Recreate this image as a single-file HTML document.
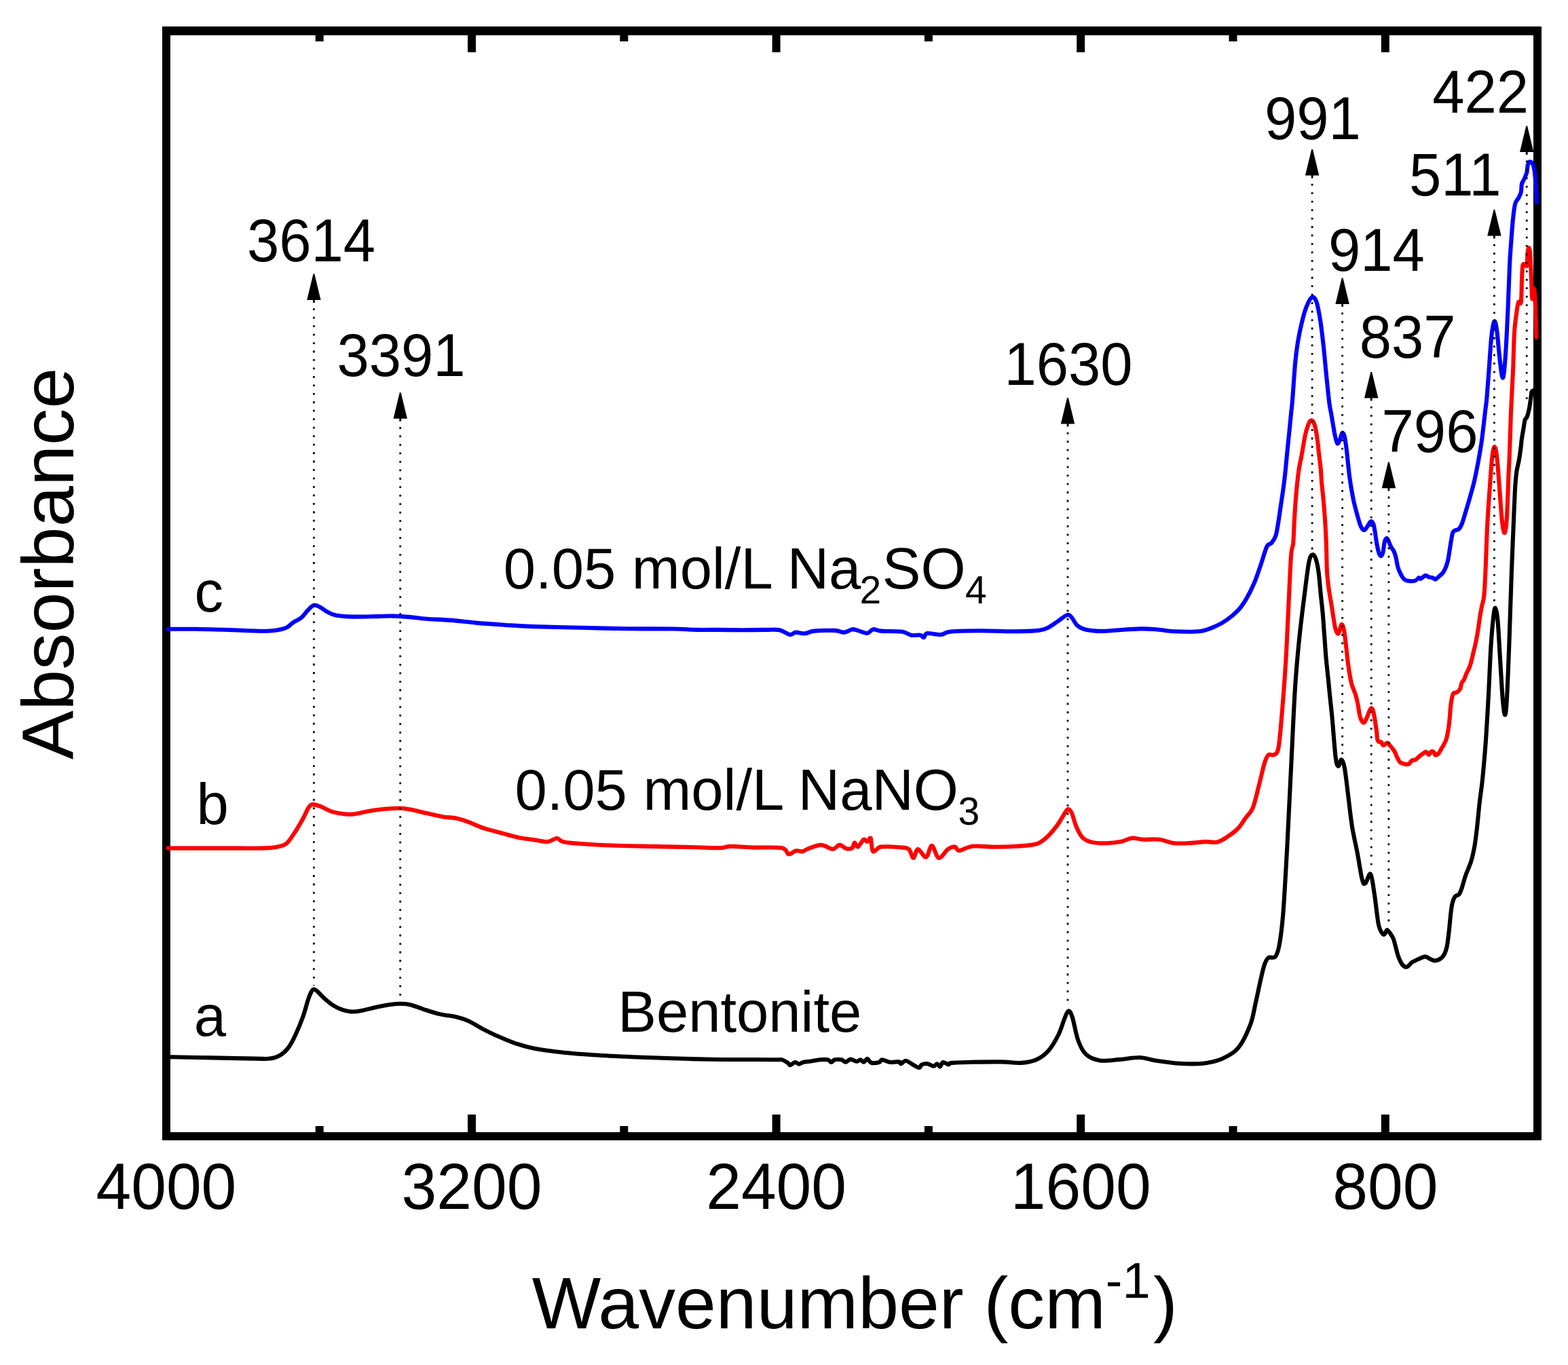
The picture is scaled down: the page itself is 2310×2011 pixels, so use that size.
<!DOCTYPE html>
<html><head><meta charset="utf-8"><title>FTIR spectra</title>
<style>html,body{margin:0;padding:0;background:#fff;overflow:hidden}svg{display:block}</style>
</head><body>
<svg width="2310" height="2011" viewBox="0 0 2310 2011">
<rect x="0" y="0" width="2310" height="2011" fill="#fff"/>
<g fill="#000">
<rect x="239" y="39" width="2032" height="13"/>
<rect x="239" y="1668" width="2032" height="12"/>
<rect x="239" y="39" width="12" height="1641"/>
<rect x="2259" y="39" width="12" height="1641"/>
<rect x="689.0" y="52" width="12" height="25"/><rect x="689.0" y="1642" width="12" height="26"/><rect x="1137.6" y="52" width="12" height="25"/><rect x="1137.6" y="1642" width="12" height="26"/><rect x="1586.2" y="52" width="12" height="25"/><rect x="1586.2" y="1642" width="12" height="26"/><rect x="2034.8" y="52" width="12" height="25"/><rect x="2034.8" y="1642" width="12" height="26"/><rect x="464.7" y="52" width="12" height="9"/><rect x="464.7" y="1659" width="12" height="9"/><rect x="913.3" y="52" width="12" height="9"/><rect x="913.3" y="1659" width="12" height="9"/><rect x="1361.9" y="52" width="12" height="9"/><rect x="1361.9" y="1659" width="12" height="9"/><rect x="1810.5" y="52" width="12" height="9"/><rect x="1810.5" y="1659" width="12" height="9"/>
</g>
<g fill="none" stroke-width="6.1" stroke-linejoin="round" stroke-linecap="round">
<path stroke="#000" d="M247.5,1557.0C248.1,1557.0 240.0,1557.0 250.9,1557.2C261.8,1557.4 291.9,1558.0 312.8,1558.4C333.7,1558.8 361.8,1559.4 376.0,1559.6C390.2,1559.8 391.7,1560.4 397.8,1559.6C403.9,1558.8 407.9,1557.4 412.4,1554.8C416.9,1552.2 421.0,1548.5 424.6,1543.8C428.2,1539.1 430.7,1534.5 434.3,1526.8C437.9,1519.1 443.2,1506.6 446.4,1497.7C449.6,1488.8 451.7,1479.5 453.7,1473.4C455.7,1467.3 457.2,1463.9 458.6,1461.3C460.0,1458.7 460.8,1457.8 462.2,1457.6C463.6,1457.4 464.4,1457.8 467.0,1460.0C469.6,1462.2 474.1,1467.5 478.0,1471.0C481.9,1474.5 486.1,1478.1 490.1,1480.7C494.2,1483.3 497.9,1485.2 502.3,1486.8C506.8,1488.4 511.9,1490.0 516.8,1490.4C521.6,1490.8 524.9,1490.3 531.4,1489.2C537.9,1488.1 548.4,1485.1 555.7,1483.6C563.0,1482.1 569.4,1480.8 575.1,1480.0C580.8,1479.2 584.8,1478.8 589.7,1478.8C594.6,1478.8 598.6,1478.9 604.3,1480.2C610.0,1481.5 616.4,1484.5 623.7,1486.8C631.0,1489.1 639.9,1492.2 648.0,1494.1C656.1,1496.0 665.3,1496.6 672.2,1498.2C679.1,1499.8 682.3,1500.7 689.2,1503.8C696.1,1506.9 706.9,1513.6 713.5,1517.1C720.1,1520.6 721.6,1521.4 729.1,1524.7C736.6,1528.0 748.6,1533.5 758.3,1536.8C768.0,1540.1 775.3,1542.4 787.4,1544.7C799.5,1547.0 816.5,1549.2 831.1,1550.8C845.7,1552.4 857.8,1553.2 874.8,1554.3C891.8,1555.4 913.7,1556.4 933.1,1557.2C952.5,1558.0 972.0,1558.7 991.4,1559.3C1010.8,1559.9 1030.3,1560.4 1049.7,1560.7C1069.1,1561.0 1092.2,1560.9 1107.9,1561.0C1123.6,1561.1 1136.3,1561.2 1143.7,1561.3C1151.1,1561.3 1149.6,1560.4 1152.5,1561.3C1155.4,1562.2 1159.3,1565.1 1161.2,1566.4C1163.1,1567.7 1162.4,1569.5 1164.1,1569.3C1165.8,1569.1 1169.2,1565.3 1171.4,1565.0C1173.6,1564.7 1175.2,1567.6 1177.2,1567.6C1179.2,1567.6 1180.2,1565.7 1183.1,1565.0C1186.0,1564.3 1190.6,1564.1 1194.7,1563.5C1198.8,1562.9 1203.7,1561.7 1207.8,1561.3C1211.9,1560.9 1216.7,1560.7 1219.5,1561.3C1222.3,1561.9 1222.9,1565.0 1224.6,1565.0C1226.3,1565.0 1227.2,1561.9 1229.7,1561.3C1232.2,1560.7 1237.2,1560.7 1239.9,1561.3C1242.6,1561.9 1243.5,1564.8 1245.7,1564.7C1247.9,1564.6 1250.3,1560.8 1253.0,1560.6C1255.7,1560.4 1259.3,1563.7 1261.7,1563.8C1264.1,1563.9 1265.8,1561.1 1267.6,1561.3C1269.4,1561.5 1271.0,1564.9 1272.7,1564.7C1274.4,1564.5 1276.0,1559.7 1277.8,1559.9C1279.6,1560.1 1280.7,1564.9 1283.6,1565.7C1286.5,1566.5 1292.6,1565.7 1295.3,1565.0C1298.0,1564.3 1296.9,1561.3 1299.6,1561.3C1302.3,1561.3 1307.2,1564.5 1311.3,1565.0C1315.4,1565.5 1321.7,1563.8 1324.4,1564.2C1327.1,1564.6 1325.6,1567.4 1327.3,1567.2C1329.0,1567.0 1331.4,1562.5 1334.6,1562.8C1337.8,1563.1 1342.9,1567.6 1346.2,1569.3C1349.5,1571.0 1352.3,1573.1 1354.3,1573.0C1356.2,1572.9 1355.9,1569.6 1357.9,1568.6C1360.0,1567.6 1363.7,1566.8 1366.6,1567.2C1369.5,1567.6 1373.1,1570.8 1375.4,1570.8C1377.7,1570.8 1378.9,1567.1 1380.5,1567.2C1382.1,1567.3 1383.5,1571.9 1384.9,1571.5C1386.4,1571.1 1387.2,1565.5 1389.2,1565.0C1391.2,1564.5 1395.1,1568.0 1397.2,1568.2C1399.3,1568.4 1396.3,1566.5 1402.0,1565.9C1407.7,1565.3 1419.0,1565.0 1431.1,1564.7C1443.2,1564.5 1462.6,1564.2 1474.8,1564.4C1487.0,1564.6 1495.2,1566.5 1504.0,1565.9C1512.8,1565.3 1520.5,1563.9 1527.3,1560.9C1534.1,1557.9 1539.5,1553.9 1544.8,1547.8C1550.1,1541.7 1555.4,1532.3 1559.3,1524.5C1563.2,1516.7 1565.7,1507.0 1568.1,1501.2C1570.5,1495.4 1572.0,1490.0 1573.9,1489.5C1575.8,1489.0 1577.3,1491.0 1579.7,1498.3C1582.1,1505.6 1585.1,1524.0 1588.5,1533.2C1591.9,1542.4 1594.8,1548.7 1600.1,1553.6C1605.4,1558.5 1612.2,1561.2 1620.5,1562.4C1628.8,1563.6 1640.0,1561.6 1649.7,1560.9C1659.4,1560.2 1670.1,1557.8 1678.8,1558.0C1687.5,1558.2 1692.4,1561.0 1702.1,1562.4C1711.8,1563.9 1725.3,1566.0 1737.0,1566.7C1748.7,1567.4 1761.3,1567.9 1772.0,1566.7C1782.7,1565.5 1792.5,1563.4 1801.2,1559.5C1810.0,1555.6 1817.7,1551.7 1824.5,1543.4C1831.3,1535.1 1837.8,1520.5 1841.9,1509.9C1846.0,1499.3 1846.8,1491.0 1849.3,1480.0C1851.8,1469.0 1854.8,1453.9 1857.1,1444.0C1859.4,1434.1 1861.0,1426.1 1863.0,1420.6C1865.0,1415.1 1866.2,1412.7 1868.8,1410.9C1871.4,1409.1 1876.0,1412.6 1878.6,1409.7C1881.2,1406.8 1882.5,1403.8 1884.5,1393.3C1886.5,1382.8 1888.3,1370.5 1890.3,1346.4C1892.2,1322.3 1894.2,1284.6 1896.2,1248.8C1898.2,1213.0 1900.0,1170.7 1902.0,1131.6C1904.0,1092.5 1905.9,1045.7 1907.9,1014.4C1909.9,983.1 1911.5,966.8 1913.8,944.0C1916.1,921.2 1919.1,897.2 1921.6,877.7C1924.1,858.2 1926.5,837.0 1928.6,826.9C1930.7,816.8 1932.4,817.6 1934.1,817.1C1935.8,816.6 1937.2,819.6 1938.6,823.8C1940.0,828.0 1941.3,834.2 1942.5,842.5C1943.7,850.8 1944.5,863.4 1945.6,873.8C1946.6,884.2 1947.9,894.6 1948.8,905.0C1949.7,915.4 1950.3,925.9 1951.1,936.3C1951.9,946.7 1952.5,957.1 1953.4,967.5C1954.3,977.9 1955.5,988.4 1956.6,998.8C1957.6,1009.2 1958.7,1019.8 1959.7,1030.0C1960.7,1040.2 1961.5,1045.7 1962.8,1060.0C1964.1,1074.3 1966.2,1104.4 1967.7,1115.9C1969.2,1127.4 1970.2,1128.3 1971.6,1128.8C1973.0,1129.3 1974.8,1118.6 1976.3,1119.1C1977.8,1119.6 1979.3,1123.0 1980.9,1131.6C1982.5,1140.2 1984.2,1156.3 1986.0,1170.6C1987.8,1184.9 1989.6,1203.2 1991.9,1217.5C1994.2,1231.8 1997.2,1243.6 1999.7,1256.6C2002.2,1269.6 2004.8,1288.1 2006.7,1295.6C2008.7,1303.1 2009.3,1302.8 2011.4,1301.5C2013.5,1300.2 2016.9,1284.9 2019.2,1287.8C2021.5,1290.7 2023.1,1306.7 2025.1,1319.1C2027.0,1331.5 2029.0,1352.6 2030.9,1362.0C2032.9,1371.4 2035.3,1373.4 2036.8,1375.7C2038.3,1378.0 2038.9,1376.9 2040.0,1376.0C2041.1,1375.1 2042.0,1370.4 2043.3,1370.1C2044.5,1369.8 2046.0,1372.2 2047.5,1374.3C2049.1,1376.4 2051.2,1379.2 2052.6,1382.6C2054.0,1385.9 2054.7,1389.9 2055.9,1394.4C2057.2,1398.9 2058.4,1404.9 2060.1,1409.4C2061.8,1413.9 2063.9,1418.7 2066.0,1421.2C2068.1,1423.7 2070.3,1425.1 2072.7,1424.5C2075.1,1423.9 2077.3,1419.8 2080.2,1417.8C2083.1,1415.8 2087.0,1414.2 2090.2,1412.8C2093.4,1411.4 2096.7,1409.4 2099.5,1409.4C2102.3,1409.4 2104.5,1411.8 2107.0,1412.8C2109.5,1413.8 2111.4,1415.9 2114.5,1415.3C2117.6,1414.7 2122.6,1412.6 2125.4,1409.4C2128.2,1406.2 2129.8,1402.1 2131.3,1396.0C2132.8,1389.9 2133.6,1380.7 2134.6,1372.6C2135.6,1364.5 2136.3,1354.5 2137.1,1347.5C2137.9,1340.5 2138.5,1335.2 2139.6,1330.7C2140.7,1326.2 2142.1,1322.9 2143.8,1320.7C2145.5,1318.5 2148.0,1319.5 2149.7,1317.3C2151.4,1315.1 2152.4,1311.8 2153.9,1307.3C2155.4,1302.8 2156.7,1296.9 2158.9,1290.5C2161.1,1284.1 2165.1,1276.0 2167.3,1268.8C2169.5,1261.5 2170.9,1254.8 2172.3,1247.0C2173.7,1239.2 2174.4,1233.1 2175.7,1221.9C2177.0,1210.7 2178.6,1192.1 2180.0,1180.0C2181.4,1167.9 2182.5,1163.3 2183.9,1149.3C2185.3,1135.2 2187.1,1116.5 2188.6,1095.7C2190.1,1074.9 2191.6,1048.1 2192.9,1024.3C2194.2,1000.5 2195.2,971.9 2196.4,952.9C2197.6,933.9 2198.9,919.5 2200.0,910.0C2201.1,900.5 2201.8,895.1 2202.9,895.7C2204.0,896.3 2205.2,901.1 2206.4,913.6C2207.6,926.1 2208.8,951.7 2210.0,970.7C2211.2,989.8 2212.5,1014.2 2213.6,1027.9C2214.7,1041.6 2215.8,1051.7 2216.8,1052.9C2217.8,1054.1 2218.5,1051.7 2219.6,1035.0C2220.7,1018.3 2222.0,984.4 2223.2,952.9C2224.4,921.4 2225.6,878.5 2226.8,845.7C2228.0,813.0 2229.7,773.9 2230.4,756.4C2231.1,738.9 2230.8,747.9 2231.1,740.9C2231.4,733.9 2231.8,721.9 2232.4,714.1C2233.0,706.3 2233.5,700.0 2234.4,694.0C2235.3,688.0 2236.8,683.5 2237.8,677.9C2238.8,672.3 2239.7,665.6 2240.4,660.5C2241.1,655.4 2241.1,652.0 2241.8,647.1C2242.5,642.2 2243.7,635.8 2244.5,631.1C2245.3,626.4 2245.6,621.9 2246.5,619.0C2247.4,616.1 2248.7,616.8 2249.8,613.7C2250.9,610.6 2252.3,604.8 2253.2,600.3C2254.1,595.8 2254.6,590.7 2255.2,586.9C2255.8,583.1 2255.9,579.4 2256.5,577.5C2257.1,575.6 2258.2,575.8 2258.5,575.5"/>
<path stroke="#f00" d="M247.5,1249.6C254.3,1249.6 273.7,1249.6 288.6,1249.6C303.5,1249.6 320.9,1249.6 337.1,1249.6C353.3,1249.6 374.4,1249.8 385.7,1249.6C397.0,1249.4 399.2,1249.3 405.1,1248.3C411.0,1247.3 416.4,1246.5 420.9,1243.5C425.3,1240.5 427.6,1236.4 431.8,1230.1C436.1,1223.8 442.8,1212.4 446.4,1205.9C450.0,1199.4 451.5,1194.8 453.7,1191.3C455.9,1187.8 456.6,1185.7 459.8,1185.2C463.0,1184.7 468.1,1186.6 473.1,1188.4C478.2,1190.2 482.8,1194.2 490.1,1196.1C497.4,1198.0 507.9,1200.0 516.8,1199.8C525.7,1199.6 535.0,1196.2 543.5,1194.9C552.0,1193.6 560.1,1192.5 567.8,1191.8C575.5,1191.1 583.6,1190.7 589.7,1190.8C595.8,1190.9 597.8,1191.3 604.3,1192.5C610.8,1193.7 620.4,1196.3 628.5,1198.1C636.6,1199.9 645.5,1202.2 652.8,1203.4C660.1,1204.6 666.1,1204.2 672.2,1205.4C678.3,1206.6 682.3,1208.2 689.2,1210.7C696.1,1213.2 705.0,1217.6 713.5,1220.4C722.0,1223.2 731.9,1225.4 740.4,1227.7C748.9,1230.0 756.3,1232.4 764.2,1234.0C772.1,1235.6 780.9,1236.4 788.0,1237.4C795.1,1238.4 801.3,1240.5 806.7,1240.1C812.1,1239.7 816.0,1234.9 820.3,1235.0C824.5,1235.1 823.4,1239.3 832.2,1240.8C841.0,1242.3 857.7,1243.3 873.0,1244.2C888.3,1245.1 904.2,1245.6 924.0,1246.2C943.8,1246.8 975.0,1247.2 992.0,1247.6C1009.0,1247.9 1014.7,1248.0 1026.0,1248.3C1037.3,1248.6 1051.5,1249.5 1060.0,1249.3C1068.5,1249.1 1068.5,1247.0 1077.0,1246.9C1085.5,1246.8 1098.5,1248.2 1111.0,1248.6C1123.5,1249.0 1143.3,1247.6 1151.8,1249.3C1160.3,1251.0 1158.6,1257.8 1162.0,1258.5C1165.4,1259.2 1168.8,1254.1 1172.2,1253.4C1175.6,1252.7 1179.6,1254.8 1182.4,1254.4C1185.2,1254.0 1184.7,1252.6 1189.2,1251.0C1193.7,1249.4 1203.4,1244.9 1209.6,1244.9C1215.8,1244.9 1222.1,1251.0 1226.6,1251.0C1231.1,1251.0 1233.4,1245.0 1236.8,1244.9C1240.2,1244.8 1243.9,1249.6 1247.0,1250.3C1250.1,1251.0 1253.5,1250.8 1255.5,1249.3C1257.5,1247.8 1257.5,1241.8 1258.9,1241.5C1260.3,1241.2 1261.7,1248.4 1264.0,1247.6C1266.3,1246.8 1270.2,1238.0 1272.5,1236.7C1274.8,1235.5 1275.9,1240.4 1277.6,1240.1C1279.3,1239.8 1281.4,1232.6 1282.8,1235.0C1284.2,1237.4 1283.6,1252.3 1286.1,1254.4C1288.6,1256.5 1291.5,1248.6 1298.0,1247.6C1304.5,1246.6 1318.4,1247.7 1325.2,1248.3C1332.0,1248.9 1335.4,1248.4 1338.8,1251.0C1342.2,1253.6 1343.3,1263.9 1345.6,1263.9C1347.9,1263.9 1349.3,1251.2 1352.4,1251.0C1355.5,1250.8 1360.9,1263.8 1364.3,1262.9C1367.7,1262.1 1369.7,1245.7 1372.8,1245.9C1375.9,1246.1 1379.1,1263.1 1383.1,1263.9C1387.1,1264.8 1392.6,1253.7 1396.6,1251.0C1400.5,1248.3 1404.0,1247.2 1406.8,1247.6C1409.5,1248.0 1408.8,1253.3 1413.1,1253.2C1417.4,1253.1 1424.0,1247.6 1432.8,1246.7C1441.5,1245.8 1454.7,1247.8 1465.6,1247.8C1476.5,1247.8 1488.1,1247.4 1498.3,1246.7C1508.5,1246.0 1519.4,1245.6 1526.7,1243.4C1534.0,1241.2 1536.9,1238.1 1542.0,1233.6C1547.1,1229.0 1552.9,1221.9 1557.3,1216.1C1561.7,1210.3 1565.6,1202.6 1568.3,1198.6C1571.0,1194.6 1571.9,1192.0 1573.7,1192.0C1575.5,1192.0 1577.2,1194.2 1579.2,1198.6C1581.2,1203.0 1583.2,1212.5 1585.8,1218.3C1588.3,1224.1 1590.9,1229.9 1594.5,1233.6C1598.1,1237.3 1601.8,1239.1 1607.6,1240.6C1613.4,1242.0 1622.2,1242.4 1629.5,1242.3C1636.8,1242.2 1644.9,1241.4 1651.3,1240.1C1657.7,1238.8 1662.2,1235.2 1667.7,1234.7C1673.2,1234.2 1677.4,1236.5 1684.1,1236.8C1690.8,1237.1 1700.8,1235.9 1708.1,1236.8C1715.4,1237.7 1720.9,1241.0 1727.8,1241.9C1734.7,1242.8 1741.7,1242.6 1749.7,1242.3C1757.7,1242.0 1768.6,1240.4 1775.9,1240.1C1783.2,1239.8 1788.0,1241.9 1793.4,1240.6C1798.9,1239.3 1803.5,1235.8 1808.6,1232.5C1813.7,1229.2 1819.5,1225.0 1823.9,1220.5C1828.3,1216.0 1831.2,1210.3 1834.9,1205.2C1838.6,1200.1 1842.4,1198.3 1845.8,1189.9C1849.2,1181.5 1852.3,1166.0 1855.2,1155.0C1858.1,1144.0 1860.7,1131.0 1863.0,1123.8C1865.3,1116.6 1866.5,1114.0 1868.8,1112.0C1871.1,1110.0 1874.2,1113.6 1876.6,1112.0C1879.0,1110.4 1881.3,1112.1 1883.3,1102.3C1885.3,1092.5 1886.6,1074.6 1888.4,1053.4C1890.2,1032.2 1892.6,1001.3 1894.2,975.3C1895.8,949.3 1896.8,923.2 1898.1,897.2C1899.4,871.2 1900.8,835.3 1902.0,819.1C1903.2,802.9 1904.4,808.9 1905.2,800.0C1906.0,791.1 1906.2,777.4 1906.9,765.8C1907.6,754.2 1908.5,740.4 1909.3,730.6C1910.1,720.8 1910.8,714.0 1911.6,707.2C1912.4,700.4 1913.0,695.1 1913.9,689.6C1914.8,684.1 1915.9,679.7 1916.9,674.4C1917.9,669.1 1918.8,663.5 1919.8,658.0C1920.8,652.5 1921.6,646.5 1922.7,641.6C1923.8,636.7 1925.1,632.2 1926.3,628.7C1927.5,625.2 1928.8,622.1 1929.8,620.5C1930.8,618.9 1931.2,619.1 1932.1,619.3C1933.0,619.5 1934.0,619.6 1935.0,621.6C1936.0,623.6 1937.0,626.5 1938.0,631.0C1939.0,635.5 1940.0,642.1 1940.9,648.6C1941.8,655.1 1942.4,662.9 1943.2,669.7C1944.0,676.5 1944.9,682.4 1945.6,689.6C1946.3,696.8 1946.6,705.2 1947.3,713.0C1948.0,720.8 1948.9,727.7 1949.7,736.5C1950.5,745.3 1951.3,755.2 1952.0,765.8C1952.7,776.4 1953.3,787.2 1953.8,800.0C1954.3,812.8 1954.3,830.7 1955.0,842.5C1955.7,854.3 1957.0,862.8 1958.1,870.6C1959.1,878.4 1960.2,882.9 1961.3,889.4C1962.3,895.9 1963.4,903.5 1964.4,909.7C1965.4,916.0 1966.3,922.9 1967.5,926.9C1968.7,930.9 1970.2,934.2 1971.4,933.9C1972.6,933.6 1973.6,927.6 1974.5,925.3C1975.4,922.9 1976.0,919.3 1976.9,919.8C1977.8,920.3 1979.0,923.0 1980.0,928.4C1981.0,933.8 1982.0,943.3 1983.1,951.9C1984.1,960.5 1985.0,970.9 1986.3,980.0C1987.6,989.1 1989.1,999.3 1990.9,1006.6C1992.7,1013.9 1995.6,1018.6 1997.2,1023.8C1998.8,1029.0 1999.5,1033.2 2000.5,1038.0C2001.5,1042.8 2002.0,1048.7 2002.9,1052.6C2003.8,1056.5 2004.7,1059.5 2005.8,1061.4C2006.9,1063.4 2008.4,1065.0 2009.7,1064.3C2011.0,1063.6 2012.4,1060.1 2013.6,1057.5C2014.8,1054.9 2016.0,1051.0 2017.0,1048.7C2018.0,1046.4 2018.9,1043.7 2019.9,1043.4C2020.9,1043.1 2021.9,1044.1 2022.8,1046.8C2023.7,1049.5 2024.4,1054.1 2025.3,1059.4C2026.2,1064.8 2027.6,1074.0 2028.2,1078.9C2028.8,1083.8 2028.6,1086.3 2029.1,1088.6C2029.6,1090.9 2030.2,1092.2 2031.1,1092.9C2032.0,1093.6 2033.5,1092.1 2034.5,1092.9C2035.5,1093.7 2036.4,1097.2 2037.4,1097.8C2038.5,1098.4 2039.7,1096.9 2040.8,1096.3C2041.9,1095.7 2043.1,1094.1 2044.2,1094.4C2045.3,1094.7 2046.2,1096.7 2047.6,1098.3C2049.0,1099.9 2051.1,1102.2 2052.5,1104.1C2053.9,1106.0 2054.9,1108.0 2055.9,1109.9C2056.9,1111.9 2057.2,1113.7 2058.3,1115.8C2059.4,1117.9 2060.9,1121.1 2062.2,1122.6C2063.5,1124.0 2064.6,1123.9 2066.0,1124.5C2067.4,1125.1 2069.3,1125.8 2070.9,1126.0C2072.5,1126.2 2074.3,1126.4 2075.8,1125.5C2077.3,1124.6 2078.1,1121.6 2079.7,1120.6C2081.3,1119.5 2083.7,1120.2 2085.5,1119.2C2087.3,1118.2 2088.5,1116.3 2090.3,1114.8C2092.1,1113.3 2094.4,1111.6 2096.2,1110.4C2098.0,1109.2 2099.6,1107.2 2101.0,1107.5C2102.4,1107.8 2103.6,1112.0 2104.9,1111.9C2106.2,1111.8 2107.5,1107.6 2108.8,1107.0C2110.1,1106.4 2111.7,1107.6 2112.7,1108.5C2113.7,1109.4 2113.5,1112.2 2114.6,1112.4C2115.7,1112.6 2118.0,1111.5 2119.5,1109.9C2121.0,1108.4 2122.3,1105.0 2123.4,1103.1C2124.5,1101.2 2125.2,1100.4 2126.3,1098.3C2127.4,1096.2 2129.1,1093.4 2130.2,1090.5C2131.2,1087.6 2131.9,1084.4 2132.6,1080.8C2133.3,1077.2 2133.9,1073.5 2134.5,1069.1C2135.1,1064.7 2135.7,1058.5 2136.0,1054.6C2136.3,1050.7 2136.2,1049.7 2136.6,1045.7C2137.0,1041.7 2137.8,1034.7 2138.6,1030.7C2139.3,1026.7 2139.8,1023.4 2141.1,1021.6C2142.4,1019.8 2144.5,1021.3 2146.2,1020.1C2147.9,1018.9 2150.0,1016.9 2151.2,1014.6C2152.4,1012.4 2152.2,1009.0 2153.2,1006.6C2154.2,1004.2 2156.0,1002.9 2157.2,1000.5C2158.4,998.1 2159.0,995.2 2160.2,992.5C2161.4,989.8 2163.0,987.4 2164.2,984.5C2165.4,981.6 2166.3,979.1 2167.3,975.4C2168.3,971.7 2169.3,966.6 2170.3,962.4C2171.3,958.2 2172.3,954.8 2173.3,950.3C2174.3,945.8 2175.5,939.9 2176.3,935.2C2177.1,930.5 2177.6,926.7 2178.3,922.2C2179.0,917.7 2179.5,913.1 2180.3,908.1C2181.1,903.1 2182.3,897.1 2183.3,892.1C2184.3,887.1 2185.4,886.7 2186.3,878.0C2187.2,869.3 2187.7,857.3 2188.5,840.0C2189.3,822.7 2190.1,794.2 2191.1,774.3C2192.1,754.4 2193.4,737.4 2194.6,720.7C2195.8,704.0 2197.0,684.8 2198.2,674.3C2199.4,663.8 2200.6,658.0 2201.8,658.0C2203.0,658.0 2204.2,664.4 2205.4,674.3C2206.6,684.1 2207.7,702.2 2208.9,717.1C2210.1,732.0 2211.3,752.3 2212.5,763.6C2213.7,774.9 2214.9,784.4 2216.1,785.0C2217.3,785.6 2218.5,781.3 2219.6,767.1C2220.7,752.9 2221.8,714.8 2222.4,700.0C2223.1,685.2 2223.1,687.8 2223.5,678.6C2223.9,669.5 2224.3,656.3 2224.7,645.1C2225.1,633.9 2225.4,622.8 2225.8,611.6C2226.2,600.4 2226.9,589.2 2227.4,578.1C2227.9,567.0 2228.5,559.4 2229.1,544.7C2229.7,530.0 2230.1,504.6 2231.0,490.0C2231.9,475.4 2233.7,464.8 2234.7,457.3C2235.7,449.8 2236.1,447.1 2237.1,445.0C2238.1,442.9 2240.0,450.3 2240.8,445.0C2241.6,439.7 2241.6,422.1 2242.0,413.1C2242.4,404.1 2242.5,394.9 2243.3,391.0C2244.1,387.1 2245.9,389.8 2246.9,389.8C2247.9,389.8 2248.8,394.1 2249.4,391.0C2250.0,387.9 2250.1,375.7 2250.6,371.4C2251.1,367.1 2252.0,364.9 2252.6,365.3C2253.2,365.7 2253.7,365.9 2254.3,373.9C2254.9,381.9 2255.5,402.1 2256.0,413.1C2256.5,424.1 2256.7,438.1 2257.2,440.1C2257.7,442.2 2258.6,426.6 2259.2,425.4C2259.8,424.2 2260.4,426.7 2260.9,432.8C2261.4,438.9 2262.0,451.6 2262.4,462.2C2262.8,472.8 2263.2,490.9 2263.4,496.6"/>
<path stroke="#00f" d="M247.5,926.8C254.3,926.8 273.7,926.6 288.6,926.8C303.5,927.0 319.7,927.5 337.1,928.0C354.5,928.5 379.2,930.1 393.0,929.7C406.8,929.3 413.2,927.7 419.7,925.6C426.2,923.5 427.8,919.7 431.8,917.1C435.9,914.5 440.4,912.8 444.0,909.8C447.6,906.8 450.7,901.9 453.7,898.9C456.7,895.9 459.4,892.4 462.2,891.6C465.0,890.8 467.3,892.3 470.7,894.0C474.1,895.7 478.8,899.7 482.8,901.8C486.9,903.9 488.9,905.5 495.0,906.6C501.1,907.7 509.2,908.4 519.3,908.6C529.4,908.9 545.6,908.3 555.7,908.1C565.8,907.9 571.9,907.4 580.0,907.6C588.1,907.8 596.2,908.4 604.3,909.1C612.4,909.8 618.4,910.9 628.5,911.7C638.6,912.5 652.9,912.9 665.0,913.9C677.1,914.9 688.9,916.5 701.4,917.6C713.9,918.7 731.2,919.9 740.0,920.5C748.8,921.1 746.0,921.0 754.0,921.4C762.0,921.8 771.0,922.5 788.0,923.1C805.0,923.7 833.3,924.3 856.0,924.8C878.7,925.3 901.3,925.9 924.0,926.2C946.7,926.5 975.0,926.2 992.0,926.5C1009.0,926.8 1014.7,927.7 1026.0,927.9C1037.3,928.1 1048.7,927.8 1060.0,927.9C1071.3,928.0 1082.7,928.2 1094.0,928.2C1105.3,928.2 1118.9,927.9 1128.0,927.9C1137.1,927.9 1142.5,927.0 1148.4,928.2C1154.4,929.4 1159.7,934.4 1163.7,935.0C1167.7,935.6 1168.5,931.9 1172.2,931.6C1175.9,931.3 1181.3,933.6 1185.8,933.3C1190.3,933.0 1192.0,930.3 1199.4,929.6C1206.8,928.9 1222.6,928.6 1230.0,928.9C1237.4,929.2 1239.3,931.9 1243.6,931.6C1247.8,931.3 1252.1,927.7 1255.5,927.2C1258.9,926.8 1260.3,927.9 1264.0,928.9C1267.7,929.9 1273.9,933.3 1277.6,933.0C1281.3,932.7 1282.7,927.8 1286.1,927.2C1289.5,926.6 1290.9,929.0 1298.0,929.6C1305.1,930.2 1321.2,929.6 1328.6,930.6C1336.0,931.6 1337.7,934.9 1342.2,935.7C1346.7,936.6 1352.7,935.1 1355.8,935.7C1358.9,936.3 1359.3,939.6 1361.0,939.1C1362.7,938.6 1361.8,933.7 1366.0,933.0C1370.2,932.3 1380.7,935.4 1386.4,935.0C1392.1,934.6 1390.0,931.6 1400.0,930.6C1410.0,929.6 1431.1,929.2 1446.6,929.2C1462.1,929.2 1479.2,930.4 1493.2,930.3C1507.2,930.2 1522.0,929.7 1530.5,928.7C1539.0,927.7 1539.8,926.8 1544.5,924.5C1549.2,922.2 1553.8,918.3 1558.5,915.2C1563.2,912.1 1569.0,906.7 1572.5,905.9C1576.0,905.1 1577.2,908.0 1579.5,910.5C1581.8,913.0 1583.4,918.2 1586.5,921.0C1589.6,923.8 1592.3,925.8 1598.1,927.3C1603.9,928.8 1613.6,929.7 1621.4,929.9C1629.2,930.1 1635.1,929.1 1644.8,928.5C1654.5,927.9 1670.0,926.6 1679.7,926.4C1689.4,926.2 1694.5,926.6 1703.0,927.3C1711.5,927.9 1720.1,929.9 1731.0,930.3C1741.9,930.7 1758.2,931.2 1768.3,929.9C1778.4,928.5 1785.0,925.0 1791.6,922.2C1798.2,919.4 1802.5,916.8 1807.9,912.9C1813.3,909.0 1819.5,903.9 1824.2,898.9C1828.9,893.9 1832.0,889.2 1835.9,882.6C1839.8,876.0 1844.1,867.5 1847.6,859.3C1851.1,851.1 1853.8,842.5 1856.9,833.6C1860.0,824.7 1863.5,811.2 1866.2,805.6C1868.9,800.0 1871.0,802.7 1873.2,800.0C1875.4,797.3 1877.8,793.9 1879.4,789.2C1881.0,784.5 1881.7,778.4 1882.9,771.6C1884.1,764.8 1885.2,756.0 1886.4,748.2C1887.6,740.4 1888.8,732.6 1889.9,724.8C1891.0,717.0 1892.0,709.1 1892.9,701.3C1893.8,693.5 1894.4,685.7 1895.2,677.9C1896.0,670.1 1896.7,662.3 1897.5,654.5C1898.3,646.7 1899.1,638.8 1899.9,631.0C1900.7,623.2 1901.5,614.4 1902.2,607.6C1902.9,600.8 1903.0,602.3 1904.0,590.0C1905.0,577.7 1906.8,548.8 1908.2,533.9C1909.6,519.0 1910.9,510.4 1912.6,500.4C1914.3,490.4 1916.2,481.9 1918.2,473.7C1920.2,465.5 1922.5,457.3 1924.9,451.3C1927.3,445.3 1930.3,439.0 1932.7,437.9C1935.1,436.8 1937.4,439.0 1939.4,444.6C1941.5,450.2 1943.3,461.0 1945.0,471.4C1946.7,481.8 1948.0,493.7 1949.5,507.1C1951.0,520.5 1952.4,537.3 1953.9,551.8C1955.4,566.3 1957.2,584.9 1958.4,594.2C1959.6,603.5 1959.9,602.4 1960.8,607.6C1961.7,612.8 1962.8,619.5 1963.8,625.2C1964.8,630.9 1965.6,636.9 1966.7,641.6C1967.8,646.3 1969.0,652.1 1970.2,653.3C1971.4,654.5 1972.5,651.1 1973.7,648.6C1974.9,646.1 1976.0,639.0 1977.2,638.0C1978.4,637.0 1979.6,638.7 1980.7,642.7C1981.8,646.7 1982.5,652.0 1983.7,662.0C1985.0,672.0 1986.6,690.7 1988.2,702.9C1989.8,715.1 1991.8,726.1 1993.6,735.0C1995.4,743.9 1997.1,749.9 1998.9,756.4C2000.7,762.9 2002.6,770.2 2004.3,774.3C2006.0,778.4 2007.7,780.6 2009.2,781.0C2010.8,781.4 2011.9,779.0 2013.6,776.9C2015.3,774.8 2017.8,769.0 2019.4,768.2C2021.0,767.4 2022.2,769.5 2023.3,772.1C2024.3,774.7 2024.9,779.0 2025.7,783.7C2026.5,788.4 2027.3,795.2 2028.2,800.2C2029.1,805.2 2030.0,810.6 2031.1,813.8C2032.1,817.0 2033.5,819.2 2034.5,819.2C2035.5,819.2 2036.5,817.3 2037.4,813.8C2038.3,810.3 2038.9,801.8 2039.8,798.3C2040.7,794.8 2041.7,793.1 2042.7,792.9C2043.7,792.7 2044.6,795.1 2045.7,797.3C2046.8,799.5 2048.2,803.7 2049.5,806.1C2050.8,808.5 2052.3,809.5 2053.4,811.9C2054.5,814.3 2055.3,816.7 2056.3,820.6C2057.3,824.5 2058.2,831.2 2059.3,835.2C2060.4,839.2 2061.7,842.0 2063.1,844.9C2064.5,847.8 2066.4,850.9 2068.0,852.7C2069.6,854.5 2070.2,855.1 2072.9,855.6C2075.7,856.1 2081.6,856.3 2084.5,855.6C2087.4,854.9 2088.9,851.7 2090.3,851.2C2091.8,850.7 2091.6,853.3 2093.2,852.7C2094.8,852.1 2098.1,848.2 2100.0,847.8C2101.9,847.4 2103.1,849.6 2104.9,850.2C2106.7,850.8 2109.1,850.6 2110.7,851.2C2112.3,851.8 2113.0,854.0 2114.6,853.6C2116.2,853.2 2118.4,850.6 2120.4,848.8C2122.4,847.0 2124.7,845.3 2126.3,843.0C2127.9,840.7 2129.1,838.1 2130.2,835.2C2131.3,832.3 2132.1,830.0 2133.1,825.5C2134.1,821.0 2135.2,812.9 2136.0,808.0C2136.8,803.1 2137.2,800.0 2137.9,796.3C2138.6,792.6 2139.1,788.1 2139.9,785.7C2140.7,783.3 2141.3,782.8 2142.8,781.8C2144.3,780.8 2147.1,781.1 2148.9,779.6C2150.7,778.1 2151.6,777.0 2153.4,772.5C2155.2,768.0 2157.5,759.8 2159.6,752.9C2161.7,746.0 2163.8,738.8 2165.9,731.4C2168.0,724.0 2170.2,716.5 2172.1,708.2C2174.0,699.9 2175.7,691.2 2177.5,681.4C2179.3,671.6 2181.1,662.1 2182.9,649.3C2184.7,636.5 2186.9,615.3 2188.2,604.6C2189.5,593.9 2189.5,596.4 2190.5,584.9C2191.5,573.4 2193.0,550.9 2194.2,535.8C2195.3,520.7 2196.2,504.5 2197.4,494.1C2198.6,483.7 2200.2,474.5 2201.5,473.3C2202.8,472.1 2204.0,478.3 2205.2,486.7C2206.4,495.1 2207.6,512.2 2208.9,523.6C2210.2,535.0 2211.8,550.9 2213.0,555.0C2214.2,559.1 2214.9,555.4 2215.8,548.1C2216.8,540.8 2217.7,527.7 2218.7,511.3C2219.7,494.9 2220.8,470.3 2221.7,449.9C2222.6,429.4 2223.3,405.0 2224.1,388.6C2224.9,372.2 2225.8,362.9 2226.6,351.8C2227.4,340.8 2228.1,330.9 2229.0,322.3C2229.9,313.7 2230.8,305.3 2232.2,300.2C2233.5,295.1 2235.7,294.5 2237.1,291.7C2238.5,288.9 2240.0,286.6 2240.8,283.1C2241.6,279.6 2241.2,274.1 2242.0,270.8C2242.8,267.5 2244.5,266.3 2245.7,263.4C2246.9,260.5 2248.6,256.9 2249.4,253.6C2250.2,250.3 2250.0,246.3 2250.6,243.8C2251.2,241.3 2251.9,238.8 2253.1,238.4C2254.3,238.0 2256.7,238.8 2258.0,241.3C2259.3,243.8 2260.1,247.4 2260.9,253.6C2261.7,259.8 2262.4,270.8 2262.9,278.2C2263.4,285.6 2263.9,294.5 2264.1,297.8"/>
</g>
<g stroke="#000" stroke-width="2.8" stroke-dasharray="2.8 9.66" fill="none">
<line x1="462.4" y1="454.3" x2="462.4" y2="1452"/><line x1="589.7" y1="629.1" x2="589.7" y2="1472"/><line x1="1573.0" y1="636.9" x2="1573.0" y2="1484"/><line x1="1933.1" y1="270.8" x2="1933.1" y2="812"/><line x1="1977.6" y1="460.4" x2="1977.6" y2="1113"/><line x1="2020.2" y1="598.8" x2="2020.2" y2="1284"/><line x1="2045.9" y1="731.6" x2="2045.9" y2="1366"/><line x1="2201.4" y1="359.8" x2="2201.4" y2="890"/><line x1="2249.2" y1="236.4" x2="2249.2" y2="588"/>
</g>
<g fill="#000">
<polygon points="461.5,403.5 463.29999999999995,403.5 472.59999999999997,442.0 463.79999999999995,442.0 463.79999999999995,446.0 461.0,446.0 461.0,442.0 452.2,442.0"/><polygon points="588.8000000000001,578.3 590.6,578.3 599.9000000000001,616.8 591.1,616.8 591.1,620.8 588.3000000000001,620.8 588.3000000000001,616.8 579.5,616.8"/><polygon points="1572.1,586.1 1573.9,586.1 1583.2,624.6 1574.4,624.6 1574.4,628.6 1571.6,628.6 1571.6,624.6 1562.8,624.6"/><polygon points="1932.1999999999998,220.0 1934.0,220.0 1943.3,258.5 1934.5,258.5 1934.5,262.5 1931.6999999999998,262.5 1931.6999999999998,258.5 1922.8999999999999,258.5"/><polygon points="1976.6999999999998,409.6 1978.5,409.6 1987.8,448.1 1979.0,448.1 1979.0,452.1 1976.1999999999998,452.1 1976.1999999999998,448.1 1967.3999999999999,448.1"/><polygon points="2019.3,548.0 2021.1000000000001,548.0 2030.4,586.5 2021.6000000000001,586.5 2021.6000000000001,590.5 2018.8,590.5 2018.8,586.5 2010.0,586.5"/><polygon points="2045.0,680.8 2046.8000000000002,680.8 2056.1,719.3 2047.3000000000002,719.3 2047.3000000000002,723.3 2044.5,723.3 2044.5,719.3 2035.7,719.3"/><polygon points="2200.5,309.0 2202.3,309.0 2211.6,347.5 2202.8,347.5 2202.8,351.5 2200.0,351.5 2200.0,347.5 2191.2000000000003,347.5"/><polygon points="2248.2999999999997,185.6 2250.1,185.6 2259.3999999999996,224.1 2250.6,224.1 2250.6,228.1 2247.7999999999997,228.1 2247.7999999999997,224.1 2239.0,224.1"/>
</g>
<g font-family="'Liberation Sans', Arial, sans-serif" fill="#000">
<text transform="translate(244.9,1780.6) scale(1,1.04)" font-size="93" text-anchor="middle">4000</text><text transform="translate(695.0,1780.6) scale(1,1.04)" font-size="93" text-anchor="middle">3200</text><text transform="translate(1143.6,1780.6) scale(1,1.04)" font-size="93" text-anchor="middle">2400</text><text transform="translate(1592.2,1780.6) scale(1,1.04)" font-size="93" text-anchor="middle">1600</text><text transform="translate(2040.8,1780.6) scale(1,1.04)" font-size="93" text-anchor="middle">800</text><text transform="translate(364.0,384.7) scale(1,1.04)" font-size="85">3614</text><text transform="translate(496.4,553.8) scale(1,1.04)" font-size="85">3391</text><text transform="translate(1479.5,566.7) scale(1,1.04)" font-size="85">1630</text><text transform="translate(1862.9,205.1) scale(1,1.04)" font-size="85">991</text><text transform="translate(1957,399.2) scale(1,1.04)" font-size="85">914</text><text transform="translate(2002.7,526.9) scale(1,1.04)" font-size="85">837</text><text transform="translate(2035.6,666.4) scale(1,1.04)" font-size="85">796</text><text transform="translate(2076,287.9) scale(1,1.04)" font-size="85">511</text><text transform="translate(2110.3,166) scale(1,1.04)" font-size="85">422</text>
<text x="783.8" y="1956.7" font-size="107.6">Wavenumber (cm<tspan font-size="74" dy="-44.3">-1</tspan><tspan x="1699" dy="44.3">)</tspan></text>
<text transform="translate(107.9,1119) rotate(-90)" font-size="108.2">Absorbance</text>
<g font-size="85">
<text x="286.5" y="900.8">c</text>
<text x="289.5" y="1213.6">b</text>
<text x="285.7" y="1525.9">a</text>
<text x="741.8" y="866.5">0.05 mol/L <tspan x="1159.7">Na</tspan><tspan x="1266.4" y="888.8" font-size="57">2</tspan><tspan x="1299.8" y="866.5">SO</tspan><tspan x="1422" y="888.8" font-size="57">4</tspan></text>
<text x="758.4" y="1193.0">0.05 mol/L <tspan x="1175.8">NaNO</tspan><tspan x="1411.6" y="1214.7" font-size="57">3</tspan></text>
<text x="910.2" y="1519.7">Bentonite</text>
</g>
</g>
</svg>
</body></html>
